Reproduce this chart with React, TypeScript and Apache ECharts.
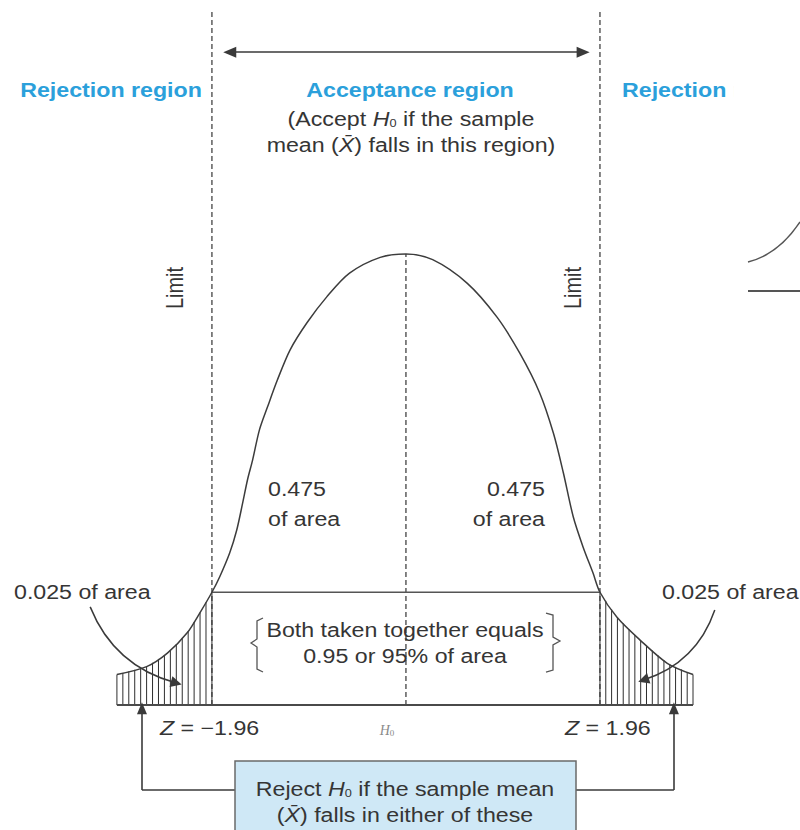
import React, { useEffect, useRef } from "react";
import * as echarts from "echarts";

// Standardised scale (Z) and curve height for the sampling distribution outline
const curveZ = [
  -2.92, -2.62, -2.41, -2.21, -2.08, -1.96, -1.88, -1.78, -1.71, -1.65, -1.6, -1.55,
  -1.48, -1.4, -1.3, -1.17, -1.0, -0.8, -0.57, -0.26, 0,
  0.27, 0.62, 0.92, 1.15, 1.35, 1.49, 1.59, 1.69, 1.79, 1.89, 1.96, 2.13, 2.36, 2.64, 2.9,
];
const curveH = [
  0.027, 0.034, 0.046, 0.064, 0.082, 0.1, 0.114, 0.135, 0.155, 0.179, 0.2, 0.217,
  0.244, 0.264, 0.288, 0.315, 0.339, 0.362, 0.383, 0.397, 0.4,
  0.395, 0.374, 0.344, 0.312, 0.277, 0.241, 0.206, 0.167, 0.14, 0.117, 0.1, 0.078, 0.058, 0.037, 0.027,
];

const zCritical = 1.96;
const tailArea = 0.025;
const halfArea = 0.475;
const bothArea = 0.95;
// shaded rejection tails, [from, to] in Z units
const tailRanges = [
  [-2.92, -zCritical],
  [zCritical, 2.9],
];
const acceptLevel = 0.1; // curve height at the critical values
const peakH = 0.4;
const limitTop = 0.615;
const arrowLevel = 0.579;
const boxLevel = -0.0754;
const tipLevel = -0.003;
// curved pointers from the tail-area notes: [start, end] in (Z, height)
const tailPointers = [
  [[-3.19, 0.087], [-2.32, 0.0195]],
  [[3.12, 0.0843], [2.4, 0.0222]],
];

const BLUE = "#2ba0db";
const INK = "#353535";
const FONT = "Liberation Sans, Arial, sans-serif";
const STRETCH = 1.16;

function heightAt(z: number): number {
  if (z <= curveZ[0]) return curveH[0];
  for (let i = 1; i < curveZ.length; i++) {
    if (z <= curveZ[i]) {
      const t = (z - curveZ[i - 1]) / (curveZ[i] - curveZ[i - 1]);
      return curveH[i - 1] + t * (curveH[i] - curveH[i - 1]);
    }
  }
  return curveH[curveH.length - 1];
}

function label(
  x: number,
  y: number,
  text: string,
  extra: Record<string, any> = {},
  rich?: Record<string, any>
) {
  const { align = "center", fontWeight = "normal", fill = INK, fontSize = 20, ...rest } = extra;
  return {
    type: "text",
    x,
    y,
    scaleX: STRETCH,
    z: 20,
    ...rest,
    style: {
      text,
      x: 0,
      y: 0,
      align,
      verticalAlign: "middle",
      fontFamily: FONT,
      fontSize,
      fontWeight,
      fill,
      rich,
    },
  };
}

const italicRich = {
  i: { fontStyle: "italic", fontFamily: FONT, fontSize: 20, fill: INK },
  s: { fontFamily: FONT, fontSize: 11, fill: INK, verticalAlign: "bottom", padding: [9, 0, 0, 0] },
};

export default function App() {
  const ref = useRef<HTMLDivElement>(null);

  useEffect(() => {
    if (!ref.current) return;
    const chart = echarts.init(ref.current, undefined, { renderer: "svg" });

    const curveData = curveZ.map((z, i) => [z, curveH[i]]);
    const lineSeries = (data: number[][], style: Record<string, any>) => ({
      type: "line",
      data,
      symbol: "none",
      silent: true,
      lineStyle: style,
      z: 3,
    });

    const arrowPt = (z: number, h: number, symbol = "none") => ({
      coord: [z, h],
      symbol,
      symbolSize: [10, 12],
    });

    const option: any = {
      animation: false,
      backgroundColor: "#ffffff",
      grid: { left: 10, right: 8, top: 6, bottom: 1 },
      xAxis: { type: "value", min: -4, max: 3.9, show: false },
      yAxis: { type: "value", min: -0.11, max: 0.62, show: false },
      series: [
        {
          type: "custom",
          data: tailRanges,
          encode: { x: [0, 1] },
          silent: true,
          z: 1,
          renderItem: (params: any, api: any) => {
            const z0 = api.value(0);
            const z1 = api.value(1);
            const p0 = api.coord([z0, 0]);
            const p1 = api.coord([z1, 0]);
            const children: any[] = [];
            const step = 5.8;
            const n = Math.round((p1[0] - p0[0]) / step);
            for (let k = 0; k <= n; k++) {
              const z = z0 + ((z1 - z0) * k) / n;
              const top = api.coord([z, heightAt(z)]);
              const px = p0[0] + ((p1[0] - p0[0]) * k) / n;
              children.push({
                type: "line",
                shape: { x1: px, y1: p0[1], x2: px, y2: top[1] },
                style: { stroke: "#2e2e2e", lineWidth: 1 },
              });
            }
            return { type: "group", children };
          },
        },
        {
          type: "line",
          data: curveData,
          smooth: 0.3,
          symbol: "none",
          silent: true,
          lineStyle: { color: "#3c3c3c", width: 1.5 },
          z: 4,
        },
        // limits of the acceptance region and the mean
        lineSeries([[-zCritical, 0], [-zCritical, limitTop]], { color: "#333", width: 1.2, type: [5, 3] }),
        lineSeries([[zCritical, 0], [zCritical, limitTop]], { color: "#333", width: 1.2, type: [5, 3] }),
        lineSeries([[0, 0], [0, peakH]], { color: "#333", width: 1.2, type: [5, 3] }),
        lineSeries([[-zCritical, acceptLevel], [zCritical, acceptLevel]], { color: "#555", width: 1.6 }),
        {
          type: "lines",
          coordinateSystem: "cartesian2d",
          silent: true,
          z: 6,
          symbol: ["none", "triangle"],
          symbolSize: 11,
          lineStyle: { color: "#3a3a3a", width: 1.5, opacity: 1 },
          data: [
            { coords: tailPointers[0], lineStyle: { curveness: -0.25 } },
            { coords: tailPointers[1], lineStyle: { curveness: 0.25 } },
          ],
        },
        {
          ...lineSeries([[tailRanges[0][0], 0], [tailRanges[1][1], 0]], { color: "#4a4a4a", width: 2 }),
          markLine: {
            silent: true,
            animation: false,
            label: { show: false },
            emphasis: { disabled: true },
            lineStyle: { color: "#3a3a3a", width: 1.6, type: "solid" },
            data: [
              // width of the acceptance region
              [
                { coord: [-1.78, arrowLevel], symbol: "triangle", symbolSize: [11, 13] },
                { coord: [1.79, arrowLevel], symbol: "triangle", symbolSize: [11, 13] },
              ],
              // elbow pointers from the rejection note
              [arrowPt(-1.727, boxLevel), arrowPt(-2.667, boxLevel)],
              [arrowPt(-2.667, boxLevel), arrowPt(-2.667, tipLevel, "triangle")],
              [arrowPt(1.717, boxLevel), arrowPt(2.707, boxLevel)],
              [arrowPt(2.707, boxLevel), arrowPt(2.707, tipLevel, "triangle")],
            ],
          },
        },
      ],
      graphic: [
        label(111, 90, "Rejection region", { fontWeight: "bold", fill: BLUE }),
        label(410, 90, "Acceptance region", { fontWeight: "bold", fill: BLUE }),
        label(411, 119, "(Accept {i|H}{s|0} if the sample", {}, italicRich),
        label(411, 145, "mean ({i|X\u0304}) falls in this region)", {}, italicRich),
        label(622, 90, "Rejection r", { fontWeight: "bold", fill: BLUE, align: "left" }),
        { type: "rect", z: 30, shape: { x: 734, y: 72, width: 40, height: 38 }, style: { fill: "#fff" } },
        {
          type: "text",
          x: 175,
          y: 288,
          rotation: Math.PI / 2,
          scaleY: STRETCH,
          z: 20,
          style: { text: "Limit", x: 0, y: 0, align: "center", verticalAlign: "middle", fontFamily: FONT, fontSize: 20, fill: INK },
        },
        {
          type: "text",
          x: 573,
          y: 288,
          rotation: Math.PI / 2,
          scaleY: STRETCH,
          z: 20,
          style: { text: "Limit", x: 0, y: 0, align: "center", verticalAlign: "middle", fontFamily: FONT, fontSize: 20, fill: INK },
        },
        label(268, 489, String(halfArea), { align: "left" }),
        label(268, 519, "of area", { align: "left" }),
        label(545, 489, String(halfArea), { align: "right" }),
        label(545, 519, "of area", { align: "right" }),
        label(14, 592, `${tailArea} of area`, { align: "left" }),
        label(662, 592, `${tailArea} of area`, { align: "left" }),
        label(405, 630, "Both taken together equals"),
        label(405, 656, `${bothArea} or ${Math.round(bothArea * 100)}% of area`),
        {
          type: "polyline",
          z: 20,
          shape: { points: [[263, 618], [257, 621], [257, 639], [251, 643], [257, 647], [257, 669], [263, 672]] },
          style: { stroke: "#555", lineWidth: 1.3, fill: "none" },
        },
        {
          type: "polyline",
          z: 20,
          shape: { points: [[546, 613], [553, 615], [553, 637], [560, 641], [553, 645], [553, 670], [546, 672]] },
          style: { stroke: "#555", lineWidth: 1.3, fill: "none" },
        },
        label(160, 728, `{i|Z} = \u2212${zCritical}`, { align: "left" }, italicRich),
        label(565, 728, `{i|Z} = ${zCritical}`, { align: "left" }, italicRich),
        {
          type: "text",
          x: 387,
          y: 730,
          z: 20,
          style: {
            text: "{i|H}{s|0}",
            x: 0,
            y: 0,
            align: "center",
            verticalAlign: "middle",
            rich: {
              i: { fontStyle: "italic", fontFamily: "Liberation Serif, serif", fontSize: 14, fill: "#8a8a8a" },
              s: { fontFamily: "Liberation Serif, serif", fontSize: 9, fill: "#8a8a8a", verticalAlign: "bottom", padding: [6, 0, 0, 0] },
            },
          },
        },
        {
          type: "rect",
          z: 15,
          shape: { x: 235, y: 761, width: 341, height: 80 },
          style: { fill: "#cfe8f6", stroke: "#6a6a6a", lineWidth: 1.5 },
        },
        label(405, 789, "Reject {i|H}{s|0} if the sample mean", {}, italicRich),
        label(405, 815, "({i|X\u0304}) falls in either of these", {}, italicRich),
        {
          type: "bezierCurve",
          z: 20,
          shape: { x1: 748, y1: 262, cpx1: 772, cpy1: 256, cpx2: 788, cpy2: 240, x2: 800, y2: 222 },
          style: { stroke: "#555", lineWidth: 1.5, fill: "none" },
        },
        {
          type: "line",
          z: 20,
          shape: { x1: 748, y1: 291, x2: 800, y2: 291 },
          style: { stroke: "#555", lineWidth: 1.8 },
        },
      ],
    };

    chart.setOption(option);
    return () => chart.dispose();
  }, []);

  return (
    <div
      ref={ref}
      style={{ position: "fixed", left: 0, top: 0, width: 800, height: 830, background: "#fff" }}
    />
  );
}
